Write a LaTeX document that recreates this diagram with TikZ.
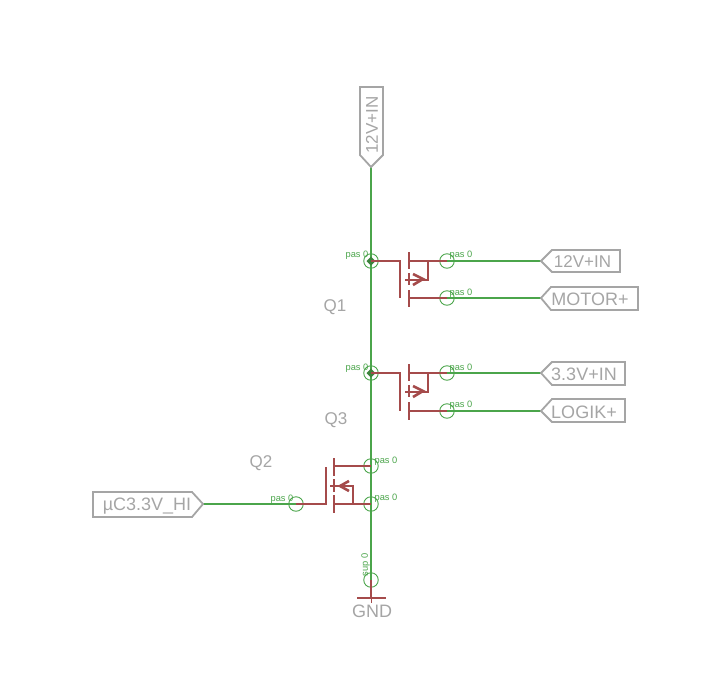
\documentclass[tikz,border=0pt]{standalone}
\usepackage{fontspec}
\setmainfont{Liberation Sans}
\definecolor{netgreen}{HTML}{4BA54B}
\definecolor{symred}{HTML}{A54B4B}
\definecolor{labelgray}{HTML}{A5A5A5}
\tikzset{
  wire/.style={draw=netgreen,line width=2.6pt},
  sym/.style={draw=symred,line width=2.6pt},
  flag/.style={draw=labelgray,line width=1.8pt,line join=miter},
  pinring/.style={draw=netgreen,circle,line width=0.9pt,minimum size=14.5pt,inner sep=0pt},
  pintext/.style={text=netgreen,font=\fontsize{9.3}{10}\selectfont,inner sep=0pt},
  graytext/.style={text=labelgray,font=\fontsize{17}{20}\selectfont,inner sep=0pt},
  widetext/.style={graytext,font=\fontsize{18}{20}\selectfont}
}
\begin{document}
\begin{tikzpicture}[x=1pt,y=-1pt]
\useasboundingbox (0,0) rectangle (713,678);

% pins
\node[pinring] (q1g) at (371,261) {};
\node[pinring] (q1d) at (447,261) {};
\node[pinring] (q1s) at (447,298) {};
\node[pinring] (q3g) at (371,373) {};
\node[pinring] (q3d) at (447,373) {};
\node[pinring] (q3s) at (447,411) {};
\node[pinring] (q2d) at (371,466) {};
\node[pinring] (q2s) at (371,504) {};
\node[pinring] (q2g) at (296,504) {};
\node[pinring] (gnd) at (371,580) {};

% label ends of the nets
\coordinate (top12v) at (371,167);
\coordinate (in12v) at (541,261);
\coordinate (motor) at (541,298);
\coordinate (in33v) at (541,373);
\coordinate (logik) at (541,411);
\coordinate (uc) at (203,504);

% nets
\path[wire] (top12v) -- (gnd.center);
\path[wire] (q1d.center) -- (in12v);
\path[wire] (q1s.center) -- (motor);
\path[wire] (q3d.center) -- (in33v);
\path[wire] (q3s.center) -- (logik);
\path[wire] (uc) -- (q2g.center);
\fill[netgreen!80!black] (371,256.5) -- (375.5,261) -- (371,265.5) -- (366.5,261) -- cycle;
\fill[netgreen!80!black] (371,368.5) -- (375.5,373) -- (371,377.5) -- (366.5,373) -- cycle;

% Q1
\path[sym] (q1g.center) -- (400,261) -- (400,298);
\path[sym] (409,252) -- (409,269);
\path[sym] (409,273) -- (409,285);
\path[sym] (409,290) -- (409,307);
\path[sym] (409,261) -- (q1d.center);
\path[sym] (409,298) -- (q1s.center);
\path[sym] (405,280) -- (428,280) -- (428,261);
\path[sym] (413,274) -- (423,279) -- (413,285);

% Q3
\path[sym] (q3g.center) -- (400,373) -- (400,411);
\path[sym] (409,364) -- (409,381);
\path[sym] (409,385) -- (409,397);
\path[sym] (409,402) -- (409,420);
\path[sym] (409,373) -- (q3d.center);
\path[sym] (409,411) -- (q3s.center);
\path[sym] (405,392) -- (428,392) -- (428,373);
\path[sym] (413,386) -- (423,391) -- (413,397);

% Q2
\path[sym] (q2g.center) -- (326,504) -- (326,467);
\path[sym] (334,458) -- (334,476);
\path[sym] (334,479) -- (334,492);
\path[sym] (334,495) -- (334,513);
\path[sym] (334,466) -- (q2d.center);
\path[sym] (334,504) -- (q2s.center);
\path[sym] (330,486) -- (353,486) -- (353,504);
\path[sym] (349,481) -- (340,486) -- (349,491);

% ground
\path[sym] (gnd.center) -- (371,598);
\path[sym] (357,598) -- (386,598);
\path[draw=symred,line width=0.8pt] (371,598) -- (371,603);

% flags
\path[flag] (in12v) -- (552,250) -- (620,250) -- (620,272) -- (552,272) -- cycle;
\path[flag] (motor) -- (551,287) -- (638,287) -- (638,310) -- (551,310) -- cycle;
\path[flag] (in33v) -- (552,362) -- (625,362) -- (625,385) -- (552,385) -- cycle;
\path[flag] (logik) -- (552,399) -- (625,399) -- (625,422) -- (552,422) -- cycle;
\path[flag] (top12v) -- (360,155) -- (360,87) -- (383,87) -- (383,155) -- cycle;
\path[flag] (uc) -- (192,492) -- (93,492) -- (93,517) -- (192,517) -- cycle;

% flag texts
\node[graytext] (t12v) at (582.5,262) {12V+IN};
\node[widetext] (tmotor) at (590,299) {MOTOR+};
\node[widetext] (t33v) at (584,374) {3.3V+IN};
\node[widetext] (tlogik) at (584,412) {LOGIK+};
\node[graytext,rotate=90] (ttop) at (372,125) {12V+IN};
\node[widetext] (tuc) at (147,506) {µC3.3V\_HI};

% part names
\node[graytext] (n1) at (335,307.5) {Q1};
\node[graytext] (n3) at (336,420.5) {Q3};
\node[graytext] (n2) at (261,463.5) {Q2};
\node[widetext] (ngnd) at (372,611.5) {GND};

% pin texts
\node[pintext] (p1) at (357,255.5) {pas 0};
\node[pintext] (p2) at (461,255.5) {pas 0};
\node[pintext] (p3) at (461,293.5) {pas 0};
\node[pintext] (p4) at (357,368.5) {pas 0};
\node[pintext] (p5) at (461,368.5) {pas 0};
\node[pintext] (p6) at (461,405.5) {pas 0};
\node[pintext] (p7) at (386,461.5) {pas 0};
\node[pintext] (p8) at (386,498.5) {pas 0};
\node[pintext] (p9) at (282,499.5) {pas 0};
\node[pintext,rotate=90] (p10) at (365.5,565) {sup 0};
\end{tikzpicture}
\end{document}
